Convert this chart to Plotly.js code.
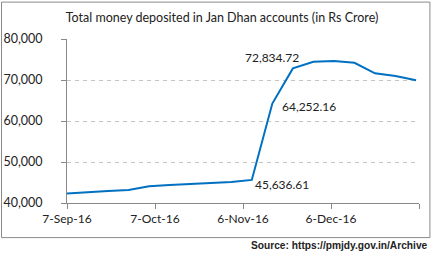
<!DOCTYPE html>
<html>
<head>
<meta charset="utf-8">
<script src="https://cdn.plot.ly/plotly-3.0.1.min.js"></script>
<style>html,body{margin:0;padding:0;background:#fff;}#chart{width:435px;height:262px;}</style>
</head>
<body>
<div id="chart"></div>
<script>
const dates = ['2016-09-07','2016-09-14','2016-09-21','2016-09-28','2016-10-05','2016-10-12','2016-10-19','2016-10-26','2016-11-02','2016-11-09','2016-11-16','2016-11-23','2016-11-30','2016-12-07','2016-12-14','2016-12-21','2016-12-28','2017-01-04'];
const deposits = [42300,42700,42950,43200,44100,44400,44600,44850,45100,45636.61,64252.16,72834.72,74450,74620,74210,71630,70970,69950];
const labelIdx = [9,10,11];
const tickDates = ['2016-09-07','2016-10-07','2016-11-06','2016-12-06','2017-01-05'];
const tickLabels = ['7-Sep-16','7-Oct-16','6-Nov-16','6-Dec-16',''];
const titleText = 'Total money deposited in Jan Dhan accounts (in Rs Crore)';
const sourceText = 'Source: https://pmjdy.gov.in/Archive';

const FONT = 'Lato, "Noto Sans", sans-serif';
const shifts = {9:[30,-5], 10:[37,-3], 11:[-21,11]};
const fmt = v => v.toLocaleString('en-US',{minimumFractionDigits:2,maximumFractionDigits:2});

const annotations = labelIdx.map(i => ({
  x: dates[i], y: deposits[i], xref:'x', yref:'y', text: fmt(deposits[i]),
  showarrow:false, xanchor:'center', yanchor:'middle',
  xshift: shifts[i][0], yshift: shifts[i][1],
  font:{family:FONT, size:12, color:'#222'}
}));
annotations.push({
  x:1.031, y:-0.262, xref:'paper', yref:'paper', text:'<b>'+sourceText+'</b>',
  showarrow:false, xanchor:'right', yanchor:'middle',
  font:{family:'"Liberation Sans", Arial, sans-serif', size:10.2, color:'#222'}
});

const trace = {
  x: dates, y: deposits, type:'scatter', mode:'lines',
  line:{color:'#0070C0', width:2}, hoverinfo:'skip'
};

const layout = {
  width:435, height:262,
  margin:{l:67, r:16, t:39, b:58.7, pad:0},
  paper_bgcolor:'#fff', plot_bgcolor:'#fff',
  showlegend:false,
  title:{text:titleText, x:222/435, xref:'container', xanchor:'center', y:1-18/262, yref:'container', yanchor:'middle',
    font:{family:FONT, size:12.5, color:'#222'}},
  xaxis:{type:'date', range:['2016-09-07','2017-01-05'], tickmode:'array', tickvals:tickDates, ticktext:tickLabels,
    showgrid:false, zeroline:false, showline:true, linecolor:'#888', linewidth:1,
    ticks:'outside', ticklen:5, tickcolor:'#888', tickfont:{family:FONT, size:12, color:'#222'}, fixedrange:true},
  yaxis:{range:[40000,80000], tickvals:[40000,50000,60000,70000,80000], tickformat:',d',
    showgrid:true, gridcolor:'#c4c4c4', griddash:'4px,4px', gridwidth:1, zeroline:false,
    showline:true, linecolor:'#888', linewidth:1, ticks:'outside', ticklen:5, tickcolor:'#888',
    ticklabelstandoff:16,
    tickfont:{family:FONT, size:12.5, color:'#222'}, fixedrange:true},
  shapes:[{type:'rect', xref:'paper', yref:'paper', x0:-0.186, x1:1.031, y0:-0.211, y1:1.225,
    line:{color:'#8a8a8a', width:1}, fillcolor:'rgba(0,0,0,0)', layer:'below'}],
  annotations: annotations
};

Plotly.newPlot('chart', [trace], layout, {displayModeBar:false, staticPlot:true});
</script>
</body>
</html>
